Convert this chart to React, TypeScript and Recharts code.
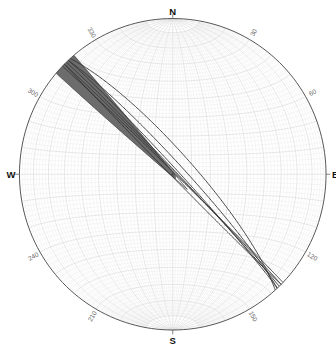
import React from "react";
import { ComposedChart, Line, Area, Scatter, XAxis, YAxis } from "recharts";

const planeDipDirs = [44, 45, 46, 47, 225, 47, 48];
const planeDips = [89, 88.5, 88, 87, 89, 84, 79];

// The two planes bounding the shaded fan in the NW.
const bandDipDirs = [220.5, 49.8];
const bandDips = [89.0, 89.2];

const cardinalNames = ["N", "E", "S", "W"];
const cardinalAz = [0, 90, 180, 270];
const azLabels = [30, 60, 120, 150, 210, 240, 300, 330];

const FONT = "'Liberation Sans', Arial, sans-serif";
const rad = (d: number) => (d * Math.PI) / 180;

type Pt = { x: number; y: number | null };
type Vec = [number, number, number]; // east, north, down

// Schmidt (equal-area) projection of a unit vector, lower hemisphere.
function project(v: Vec): Pt {
  let [e, n, d] = v;
  if (d < 0) {
    e = -e;
    n = -n;
    d = -d;
  }
  const k = 1 / Math.sqrt(1 + d);
  return { x: e * k, y: n * k };
}

function planeAxes(dd: number, dip: number): [Vec, Vec] {
  const s = rad(dd - 90);
  const sv: Vec = [Math.sin(s), Math.cos(s), 0];
  const dv: Vec = [
    Math.sin(rad(dd)) * Math.cos(rad(dip)),
    Math.cos(rad(dd)) * Math.cos(rad(dip)),
    Math.sin(rad(dip)),
  ];
  return [sv, dv];
}

function greatCircle(dd: number, dip: number, a0 = 0, a1 = 180, step = 2): Pt[] {
  const [sv, dv] = planeAxes(dd, dip);
  const pts: Pt[] = [];
  const n = Math.max(1, Math.round((a1 - a0) / step));
  for (let i = 0; i <= n; i++) {
    const a = rad(a0 + ((a1 - a0) * i) / n);
    const c = Math.cos(a);
    const s = Math.sin(a);
    pts.push(project([c * sv[0] + s * dv[0], c * sv[1] + s * dv[1], c * sv[2] + s * dv[2]]));
  }
  return pts;
}

function smallCircle(lat: number, step = 3): Pt[] {
  const pts: Pt[] = [];
  for (let p = 0; p <= 180; p += step) {
    const cl = Math.cos(rad(lat));
    pts.push(project([cl * Math.cos(rad(p)), Math.sin(rad(lat)), cl * Math.sin(rad(p))]));
  }
  return pts;
}

function joinSegments(list: Pt[][]): Pt[] {
  const out: Pt[] = [];
  list.forEach((seg) => {
    out.push(...seg);
    out.push({ x: seg[seg.length - 1].x, y: null });
  });
  return out;
}

// net grid: 10° lines full length, 2° meridians stop 10° short of the poles
const majorSegs: Pt[][] = [];
const minorSegs: Pt[][] = [];
for (let d = 2; d <= 90; d += 2) {
  const major = d % 10 === 0;
  [90, 270].forEach((dd) => {
    if (d === 90 && dd === 270) return;
    if (major) majorSegs.push(greatCircle(dd, d, 0, 180, 3));
    else minorSegs.push(greatCircle(dd, d, 10, 170, 3));
  });
}
for (let lat = -88; lat <= 88; lat += 2) {
  (lat % 10 === 0 ? majorSegs : minorSegs).push(smallCircle(lat));
}
const majorGrid = joinSegments(majorSegs);
const minorGrid = joinSegments(minorSegs);

const rim: Pt[] = [];
for (let az = 0; az <= 360; az += 2) rim.push({ x: Math.sin(rad(az)), y: Math.cos(rad(az)) });

const tickSegs = joinSegments(
  cardinalAz.map((az) => [
    { x: Math.sin(rad(az)), y: Math.cos(rad(az)) },
    { x: Math.sin(rad(az)) * 1.028, y: Math.cos(rad(az)) * 1.028 },
  ])
);
const centerCross = joinSegments([
  [{ x: -0.012, y: 0 }, { x: 0.012, y: 0 }],
  [{ x: 0, y: -0.012 }, { x: 0, y: 0.012 }],
]);

// shaded fan between the two bounding planes, NW of their intersection
function cross(a: Vec, b: Vec): Vec {
  return [a[1] * b[2] - a[2] * b[1], a[2] * b[0] - a[0] * b[2], a[0] * b[1] - a[1] * b[0]];
}
function pole(dd: number, dip: number): Vec {
  const [sv, dv] = planeAxes(dd, dip);
  return cross(sv, dv);
}
let apexV = cross(pole(bandDipDirs[0], bandDips[0]), pole(bandDipDirs[1], bandDips[1]));
if (apexV[2] < 0) apexV = [-apexV[0], -apexV[1], -apexV[2]];
const apex = project(apexV);

function angleIn(dd: number, dip: number, v: Vec) {
  const [sv, dv] = planeAxes(dd, dip);
  const c = sv[0] * v[0] + sv[1] * v[1] + sv[2] * v[2];
  const s = dv[0] * v[0] + dv[1] * v[1] + dv[2] * v[2];
  return (Math.atan2(s, c) * 180) / Math.PI;
}
const aL = angleIn(bandDipDirs[0], bandDips[0], apexV);
const aR = angleIn(bandDipDirs[1], bandDips[1], apexV);
const edgeL = greatCircle(bandDipDirs[0], bandDips[0], aL, 180, 0.5);
const edgeR = greatCircle(bandDipDirs[1], bandDips[1], 0, aR, 0.5);

function yAt(pts: Pt[], x: number) {
  for (let i = 0; i < pts.length - 1; i++) {
    const a = pts[i];
    const b = pts[i + 1];
    if ((a.x - x) * (b.x - x) <= 0 && a.x !== b.x) {
      return (a.y as number) + (((b.y as number) - (a.y as number)) * (x - a.x)) / (b.x - a.x);
    }
  }
  return apex.y as number;
}
const xL = edgeL[edgeL.length - 1].x;
const xR = edgeR[0].x;
const bandFill: { x: number; range: [number, number] }[] = [];
for (let i = 0; i <= 120; i++) {
  const x = xL + ((apex.x - xL) * i) / 120;
  const lo = yAt(edgeL, x);
  const hi = x < xR ? Math.sqrt(Math.max(0, 1 - x * x)) : yAt(edgeR, x);
  bandFill.push({ x, range: [lo, Math.max(lo, hi)] });
}

const planes = planeDipDirs.map((dd, i) => greatCircle(dd, planeDips[i], 0, 180, 1));

const labelPts = [
  ...cardinalNames.map((t, i) => {
    const r = [1.048, 1.06, 1.07, 1.056][i];
    return { x: Math.sin(rad(cardinalAz[i])) * r, y: Math.cos(rad(cardinalAz[i])) * r, t, rot: 0, big: true };
  }),
  ...azLabels.map((az) => ({
    x: Math.sin(rad(az)) * 1.052,
    y: Math.cos(rad(az)) * 1.052,
    t: String(az),
    rot: az < 180 ? az - 90 : az - 270,
    big: false,
  })),
];

function LabelShape(props: any) {
  const { cx, cy, payload } = props;
  return (
    <text
      x={cx}
      y={cy}
      transform={`rotate(${payload.rot} ${cx} ${cy})`}
      textAnchor="middle"
      dominantBaseline="central"
      fontFamily={FONT}
      fontSize={payload.big ? 9.5 : 6.5}
      fontWeight={payload.big ? 700 : 400}
      fill={payload.big ? "#111" : "#666"}
    >
      {payload.t}
    </text>
  );
}

export default function App() {
  return (
    <div style={{ position: "absolute", left: 0, top: 0, background: "#fff" }}>
      <ComposedChart width={336} height={349} margin={{ top: 0, right: 0, bottom: 0, left: 0 }}>
        <XAxis type="number" dataKey="x" domain={[-1.127, 1.065]} hide />
        <YAxis type="number" domain={[-1.122, 1.119]} hide />
        {/* grid drawn as unfilled areas so it stays underneath the shaded fan */}
        <Area data={minorGrid} dataKey="y" type="linear" stroke="#ececec" strokeWidth={0.5} fill="none" activeDot={false} isAnimationActive={false} />
        <Area data={majorGrid} dataKey="y" type="linear" stroke="#d9d9d9" strokeWidth={0.6} fill="none" activeDot={false} isAnimationActive={false} />
        <Area
          data={bandFill}
          dataKey="range"
          type="linear"
          stroke="none"
          fill="#6c6c6c"
          fillOpacity={1}
          activeDot={false}
          isAnimationActive={false}
        />
        <Line data={edgeL} dataKey="y" stroke="#3c3c3c" strokeWidth={0.8} dot={false} isAnimationActive={false} />
        <Line data={edgeR} dataKey="y" stroke="#3c3c3c" strokeWidth={0.8} dot={false} isAnimationActive={false} />
        {planes.map((p, i) => (
          <Line key={i} data={p} dataKey="y" stroke="#333" strokeWidth={0.9} dot={false} isAnimationActive={false} />
        ))}
        <Line data={rim} dataKey="y" stroke="#555" strokeWidth={1} dot={false} isAnimationActive={false} />
        <Line data={tickSegs} dataKey="y" stroke="#666" strokeWidth={0.8} dot={false} isAnimationActive={false} />
        <Line data={centerCross} dataKey="y" stroke="#444" strokeWidth={0.8} dot={false} isAnimationActive={false} />
        <Scatter data={labelPts} dataKey="y" shape={<LabelShape />} isAnimationActive={false} />
      </ComposedChart>
    </div>
  );
}
